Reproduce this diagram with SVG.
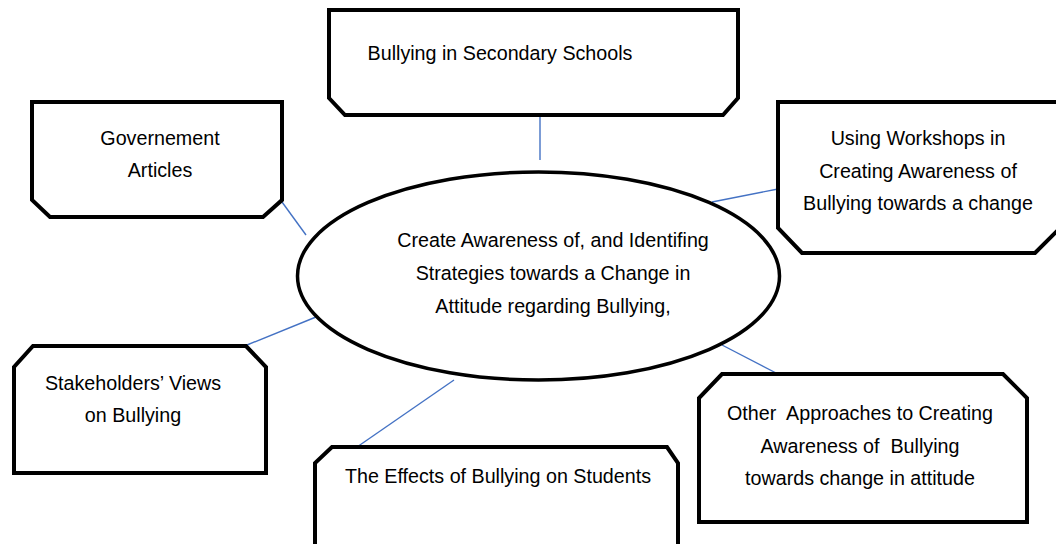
<svg xmlns="http://www.w3.org/2000/svg" width="1056" height="544" viewBox="0 0 1056 544">
<style>
.box{fill:#fff;stroke:#000;stroke-width:4;stroke-linejoin:miter}
.ell{fill:#fff;stroke:#000;stroke-width:3.5}
.con{stroke:#4472C4;stroke-width:1.4;fill:none}
text{font-family:"Liberation Sans",Arial,sans-serif;font-size:19.7px;fill:#000;text-anchor:middle}
</style>
<rect width="1056" height="544" fill="#fff"/>
<g id="connectors">
<line class="con" x1="540" y1="116" x2="540" y2="160"/>
<line class="con" x1="282" y1="202" x2="306" y2="235"/>
<line class="con" x1="712" y1="202" x2="778" y2="189"/>
<line class="con" x1="247" y1="345" x2="316" y2="317"/>
<line class="con" x1="357" y1="447" x2="454" y2="380"/>
<line class="con" x1="722" y1="345" x2="778" y2="374"/>
</g>
<g id="center">
<ellipse class="ell" cx="538.5" cy="276" rx="241" ry="104"/>
<text x="553" y="247">Create Awareness of, and Identifing</text>
<text x="553" y="280">Strategies towards a Change in</text>
<text x="553" y="313">Attitude regarding Bullying,</text>
</g>
<g id="secondary">
<path class="box" d="M329,10 H738 V98 L723,115 H345 L329,98 Z"/>
<text x="500" y="60">Bullying in Secondary Schools</text>
</g>
<g id="government">
<path class="box" d="M32,102 H282 V200 L263,217 H50 L32,200 Z"/>
<text x="160" y="145">Governement</text>
<text x="160" y="177">Articles</text>
</g>
<g id="workshops">
<path class="box" d="M778,102 H1060 V228 L1035,253 H802 L778,228 Z"/>
<text x="918" y="145">Using Workshops in</text>
<text x="918" y="178">Creating Awareness of</text>
<text x="918" y="210">Bullying towards a change</text>
</g>
<g id="stakeholders">
<path class="box" d="M33,346 H246 L266,367 V473 H14 V367 Z"/>
<text x="133" y="390">Stakeholders’ Views</text>
<text x="133" y="422">on Bullying</text>
</g>
<g id="effects">
<path class="box" d="M332,447 H667 L678,463 V550 H315 V463 Z"/>
<text x="498" y="483">The Effects of Bullying on Students</text>
</g>
<g id="approaches">
<path class="box" d="M722,374 H1003 L1027,398 V522 H699 V398 Z"/>
<text x="860" y="420" xml:space="preserve">Other  Approaches to Creating</text>
<text x="860" y="453" xml:space="preserve">Awareness of  Bullying</text>
<text x="860" y="485">towards change in attitude</text>
</g>
</svg>
